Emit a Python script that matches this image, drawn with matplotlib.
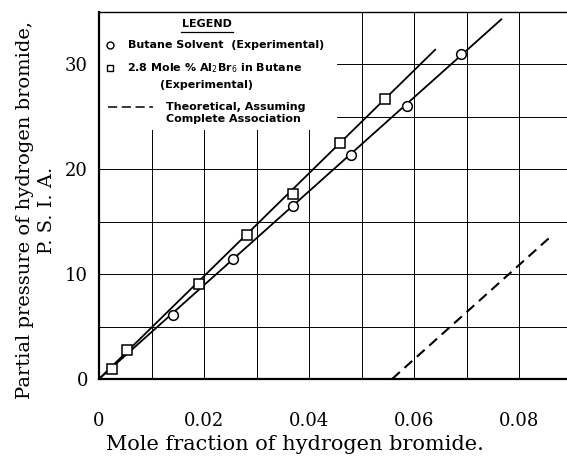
import matplotlib
matplotlib.use("Agg")
import matplotlib.pyplot as plt
from matplotlib.patches import Rectangle

# Butane solvent (experimental)
butane_x = [0.0141, 0.0255, 0.0369, 0.0479, 0.0586, 0.0690]
butane_y = [6.1, 11.4, 16.5, 21.4, 26.0, 31.0]
butane_line_x = [0.0, 0.0766]
butane_line_y = [0.0, 34.3]

# 2.8 mole % Al2Br6 in butane (experimental)
albr_x = [0.0024, 0.0053, 0.0190, 0.0281, 0.0369, 0.0459, 0.0544]
albr_y = [0.95, 2.8, 9.1, 13.7, 17.6, 22.5, 26.7]
albr_line_x = [0.0, 0.0640]
albr_line_y = [0.0, 31.4]

# theoretical, assuming complete association
theo_x = [0.0558, 0.0856]
theo_y = [0.0, 13.4]

xtick_vals = [0, 0.02, 0.04, 0.06, 0.08]
xtick_labels = ["0", "0.02", "0.04", "0.06", "0.08"]
ytick_vals = [0, 10, 20, 30]

fig = plt.figure(figsize=(5.67, 4.58), dpi=100)
ax = fig.add_axes([99 / 567, 79 / 458, 468 / 567, 367 / 458])

ax.set_xlim(0, 0.0891)
ax.set_ylim(0, 35)

ax.set_xticks([i * 0.01 for i in range(9)], minor=True)
ax.set_yticks([5 * i for i in range(7)], minor=True)
ax.set_xticks(xtick_vals, xtick_labels)
ax.set_yticks(ytick_vals)
ax.grid(True, which="both", color="black", lw=0.7)
ax.set_axisbelow(True)
ax.tick_params(which="both", length=0)
ax.tick_params(axis="x", pad=24, labelsize=13)
ax.tick_params(axis="y", pad=8, labelsize=13)
for lab in ax.get_xticklabels() + ax.get_yticklabels():
    lab.set_family("DejaVu Serif")

ax.spines["right"].set_visible(False)
for s in ["left", "bottom"]:
    ax.spines[s].set_linewidth(1.6)
ax.spines["top"].set_linewidth(1.0)

ax.plot(butane_line_x, butane_line_y, color="black", lw=1.3, zorder=3)
ax.plot(albr_line_x, albr_line_y, color="black", lw=1.3, zorder=3)
ax.plot(butane_x, butane_y, "o", ms=7, mfc="white", mec="black", mew=1.1, zorder=4)
ax.plot(albr_x, albr_y, "s", ms=6.5, mfc="white", mec="black", mew=1.1, zorder=4)
ax.plot(theo_x, theo_y, color="black", lw=1.5, dashes=(5, 3), zorder=3)

ax.set_xlabel("Mole fraction of hydrogen bromide.", family="DejaVu Serif", fontsize=15)
ax.xaxis.set_label_coords(0.419, -0.152)
ax.set_ylabel("Partial pressure of hydrogen bromide,\nP. S. I. A.",
              family="DejaVu Serif", fontsize=14, ha="center", va="center",
              linespacing=1.25)
ax.yaxis.set_label_coords(-0.135, 0.46)

# legend box
ax.add_patch(Rectangle((0.003, 0.678), 0.505, 0.32, transform=ax.transAxes,
                       facecolor="white", edgecolor="none", zorder=2))
lk = dict(transform=ax.transAxes, family="DejaVu Sans", fontsize=8,
          fontweight="bold", va="center", zorder=5)
ax.text(0.2308, 0.967, "LEGEND", ha="center", **lk)
ax.plot([0.175, 0.286], [0.946, 0.946], color="black", lw=0.9,
        transform=ax.transAxes, zorder=5)
ax.plot([0.0235], [0.910], "o", ms=5, mfc="white", mec="black", mew=1.0,
        transform=ax.transAxes, zorder=5)
ax.text(0.062, 0.910, "Butane Solvent  (Experimental)", ha="left", **lk)
ax.plot([0.0235], [0.847], "s", ms=5, mfc="white", mec="black", mew=1.0,
        transform=ax.transAxes, zorder=5)
ax.text(0.059, 0.847, "2.8 Mole % Al$_2$Br$_6$ in Butane", ha="left", **lk)
ax.text(0.130, 0.801, "(Experimental)", ha="left", **lk)
ax.plot([0.019, 0.115], [0.741, 0.741], color="black", lw=1.1, dashes=(6, 3),
        transform=ax.transAxes, zorder=5)
ax.text(0.143, 0.741, "Theoretical, Assuming", ha="left", **lk)
ax.text(0.143, 0.708, "Complete Association", ha="left", **lk)

fig.savefig("out.png", dpi=100)
